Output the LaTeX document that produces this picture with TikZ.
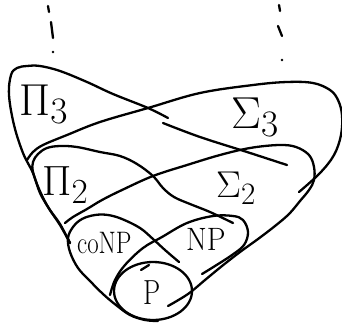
\documentclass[tikz,border=0pt]{standalone}
\usepackage{graphicx}
\tikzset{
  pen/.style={line width=2.3pt, line cap=round, line join=round},
  lbl/.style={inner sep=0pt, anchor=base west}
}
\begin{document}
\begin{tikzpicture}[x=1pt,y=-1pt]
\useasboundingbox (0,0) rectangle (342,325);
% dots at top
\draw[pen] (48,6) -- (49,12);
\draw[pen] (51,22) -- (53,38);
\fill (53,52) circle (1.3pt);
\draw[pen] (279,5) -- (280,11);
\draw[pen] (278,26) -- (282,36);
\fill (282,60) circle (1.3pt);
% Pi_3 lobe
\draw[pen] plot[smooth, tension=0.6] coordinates {(70,243) (60,224) (50,210) (40,193) (33,173) (23,153) (14,125) (9,95) (11,75) (17,68) (27,66) (40,66) (60,71) (87,82) (113,94) (148,108) (168,118)};
\draw[pen] plot[smooth, tension=0.6] coordinates {(163,123) (200,137) (247,152) (287,165)};
% Sigma_3 lobe
\draw[pen] plot[smooth, tension=0.6] coordinates {(27,160) (33,152) (43,145) (67,135) (100,122) (148,108) (200,93) (253,85) (287,82) (313,83) (330,90) (338,100) (342,115) (341,135) (334,155) (320,173) (299,192)};
% Pi_2 lobe
\draw[pen] plot[smooth, tension=0.6] coordinates {(70,243) (60,225) (48,207) (39,189) (33,172) (33,162) (38,154) (47,148) (60,146) (77,147) (100,152) (120,156) (137,164) (153,176) (163,188) (174,197) (190,204) (210,212) (233,223)};
% Sigma_2 lobe and right side
\draw[pen] plot[smooth, tension=0.6] coordinates {(65,223) (73,217) (87,209) (102,200) (122,190) (153,176) (187,165) (220,155) (250,148) (279,145) (296,147) (309,155) (314,167) (314,180) (309,190) (300,201) (289,214) (275,226) (258,239) (240,252) (222,266) (205,280) (188,294) (168,306)};
% coNP loop
\draw[pen] plot[smooth, tension=0.6] coordinates {(179,262) (165,250) (153,239) (140,228) (122,219) (108,215) (95,215) (82,219) (73,227) (68,238) (70,252) (78,268) (90,281) (103,294) (116,305) (130,315) (145,320) (158,321)};
% NP loop
\draw[pen] plot[smooth, tension=0.6] coordinates {(110,295) (115,280) (125,265) (143,248) (162,237) (187,223) (213,216) (233,216) (243,220) (248,232) (244,245) (232,255) (215,266) (202,274)};
% P circle
\draw[pen] (153,291) ellipse [x radius=39, y radius=29];
\draw[pen] (141,270) -- (149,265);
% labels
\node[lbl] (pi3) at (19,115) {\scalebox{1.8}{\Huge$\Pi_3$}};
\node[lbl] (sig3) at (231,128) {\scalebox{1.8}{\Huge$\Sigma_3$}};
\node[lbl] (pi2) at (42,195) {\scalebox{1.7}{\Huge$\Pi_2$}};
\node[lbl] (sig2) at (216,197) {\scalebox{1.5}{\Huge$\Sigma_2$}};
\node[lbl] (conp) at (77,253) {\scalebox{1.0}[1.25]{\Huge coNP}};
\node[lbl] (np) at (186,250) {\scalebox{1.2}[1.3]{\Huge NP}};
\node[lbl] (p) at (143,304) {\scalebox{1.1}[1.4]{\Huge P}};
\end{tikzpicture}
\end{document}
